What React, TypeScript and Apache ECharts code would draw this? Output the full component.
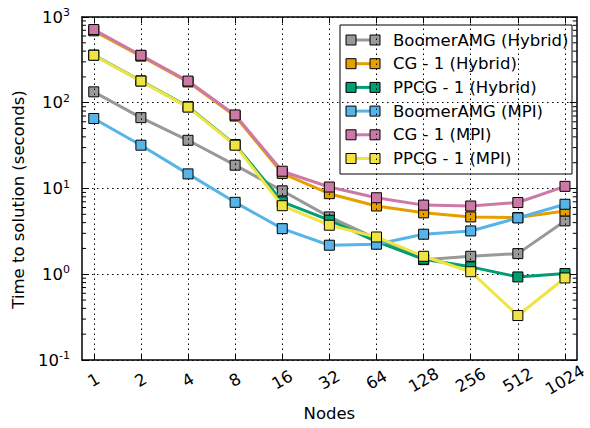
import React, { useEffect, useRef } from "react";
import * as echarts from "echarts";

const nodes = ["1", "2", "4", "8", "16", "32", "64", "128", "256", "512", "1024"];
const seriesNames = [
  "BoomerAMG (Hybrid)",
  "CG - 1 (Hybrid)",
  "PPCG - 1 (Hybrid)",
  "BoomerAMG (MPI)",
  "CG - 1 (MPI)",
  "PPCG - 1 (MPI)",
];
const seriesColors = ["#999999", "#E69F00", "#009E73", "#56B4E9", "#CC79A7", "#F0E442"];

const boomerHybrid = [134, 67, 36.5, 18.7, 9.4, 4.66, 2.6, 1.48, 1.62, 1.74, 4.19];
const cgHybrid = [690, 350, 175, 70, 15, 8.7, 6.25, 5.2, 4.66, 4.58, 5.47];
const ppcgHybrid = [360, 180, 90, 32.5, 7.0, 4.27, 2.4, 1.5, 1.22, 0.93, 1.02];
const boomerMPI = [65.5, 32, 14.8, 6.9, 3.4, 2.18, 2.24, 2.93, 3.2, 4.54, 6.55];
const cgMPI = [714, 358, 179, 72, 15.9, 10.4, 7.8, 6.4, 6.25, 6.86, 10.6];
const ppcgMPI = [358, 179, 89, 32, 6.3, 3.73, 2.72, 1.62, 1.07, 0.33, 0.905];

const seriesValues = [boomerHybrid, cgHybrid, ppcgHybrid, boomerMPI, cgMPI, ppcgMPI];

const yMinorTicks: number[] = [];
for (const d of [0.1, 1, 10, 100]) {
  for (const m of [2, 3, 4, 5, 6, 7, 8, 9]) yMinorTicks.push(+(d * m).toPrecision(3));
}

const FONT = "DejaVu Sans";

export default function App() {
  const ref = useRef<HTMLDivElement>(null);
  useEffect(() => {
    if (!ref.current) return;
    document.body.style.margin = "0";
    const chart = echarts.init(ref.current, null, { renderer: "svg" });
    const xIdx = nodes.map((_, i) => i);

    const lineSeries = seriesNames.map((name, s) => ({
      name,
      type: "line",
      xAxisIndex: 0,
      yAxisIndex: 0,
      data: seriesValues[s].map((v, i) => [i, v]),
      symbol: "rect",
      symbolSize: 10,
      color: seriesColors[s],
      lineStyle: { width: 3, color: seriesColors[s] },
      itemStyle: { color: seriesColors[s], borderColor: "#000", borderWidth: 1 },
      z: 3 + s,
      silent: true,
    }));

    const minorTickSeries = {
      type: "custom",
      xAxisIndex: 0,
      yAxisIndex: 0,
      silent: true,
      z: 1,
      data: yMinorTicks.map((v) => [0, v]),
      renderItem: (params: any, api: any) => {
        const cs = params.coordSys;
        const y = api.coord([0, api.value(1)])[1];
        return {
          type: "group",
          children: [
            { type: "line", shape: { x1: cs.x, y1: y, x2: cs.x + 4, y2: y }, style: { stroke: "#000", lineWidth: 1 } },
            { type: "line", shape: { x1: cs.x + cs.width - 4, y1: y, x2: cs.x + cs.width, y2: y }, style: { stroke: "#000", lineWidth: 1 } },
          ],
        };
      },
      markLine: {
        silent: true,
        symbol: ["none", "none"],
        label: { show: false },
        lineStyle: { type: [1.5, 3.5], color: "#000", width: 1 },
        data: xIdx.map((i) => ({ xAxis: i })),
      },
    };

    const legendLeft = 340;
    const legendTop = 25;
    const rowH = 23.7;
    const legendChildren: any[] = [
      {
        type: "rect",
        shape: { x: legendLeft, y: legendTop, width: 232, height: 149 },
        style: { fill: "#fff", stroke: "#000", lineWidth: 1 },
      },
    ];
    seriesNames.forEach((name, s) => {
      const cy = legendTop + 15 + s * rowH;
      legendChildren.push({
        type: "line",
        shape: { x1: 351, y1: cy, x2: 375, y2: cy },
        style: { stroke: seriesColors[s], lineWidth: 3 },
      });
      [351, 375].forEach((cx) =>
        legendChildren.push({
          type: "rect",
          shape: { x: cx - 5, y: cy - 5, width: 10, height: 10 },
          style: { fill: seriesColors[s], stroke: "#000", lineWidth: 1 },
        })
      );
      legendChildren.push({
        type: "text",
        x: 393,
        y: cy,
        style: {
          text: name,
          fill: "#000",
          font: `16.5px "${FONT}"`,
          verticalAlign: "middle",
          align: "left",
        },
      });
    });

    const yLabelFmt = (v: number) => {
      const e = Math.round(Math.log10(v));
      return `{b|10}{s|${e}}`;
    };

    chart.setOption({
      animation: false,
      backgroundColor: "#fff",
      grid: { left: 82, right: 10, top: 17, bottom: 68, containLabel: false },
      xAxis: [
        {
          type: "value",
          position: "bottom",
          min: -0.25,
          max: 10.25,
          name: "Nodes",
          nameLocation: "middle",
          nameGap: 45,
          nameTextStyle: { fontFamily: FONT, fontSize: 16.5, color: "#000" },
          axisLine: { show: true, onZero: false, lineStyle: { color: "#000", width: 1.5 } },
          axisTick: { show: true, inside: true, length: 6, customValues: xIdx, lineStyle: { color: "#000" } },
          axisLabel: {
            show: true,
            customValues: xIdx,
            formatter: (v: number) => nodes[Math.round(v)] ?? "",
            rotate: 30,
            align: "center",
            verticalAlign: "middle",
            margin: 20,
            fontFamily: FONT,
            fontSize: 16.5,
            color: "#000",
          },
          splitLine: { show: false },
        },
        {
          type: "value",
          position: "top",
          min: -0.25,
          max: 10.25,
          axisLine: { show: true, onZero: false, lineStyle: { color: "#000", width: 1.5 } },
          axisTick: { show: true, inside: true, length: 6, customValues: xIdx, lineStyle: { color: "#000" } },
          axisLabel: { show: false },
          splitLine: { show: false },
        },
      ],
      yAxis: [
        {
          type: "log",
          logBase: 10,
          min: 0.1,
          max: 1000,
          position: "left",
          name: "Time to solution (seconds)",
          nameLocation: "middle",
          nameGap: 50,
          nameTextStyle: { fontFamily: FONT, fontSize: 16.5, color: "#000", padding: [0, 22, 0, 0] },
          axisLine: { show: true, onZero: false, lineStyle: { color: "#000", width: 1.5 } },
          axisTick: { show: true, inside: true, length: 7, lineStyle: { color: "#000" } },
          axisLabel: {
            show: true,
            margin: 12,
            formatter: yLabelFmt,
            rich: {
              b: { fontFamily: FONT, fontSize: 16.5, color: "#000" },
              s: { fontFamily: FONT, fontSize: 11, color: "#000", padding: [0, 0, 9, 0] },
            },
          },
          splitLine: { show: true, lineStyle: { type: [1.5, 3.5], color: "#000", width: 1 } },
        },
        {
          type: "log",
          logBase: 10,
          min: 0.1,
          max: 1000,
          position: "right",
          axisLine: { show: true, onZero: false, lineStyle: { color: "#000", width: 1.5 } },
          axisTick: { show: true, inside: true, length: 7, lineStyle: { color: "#000" } },
          axisLabel: { show: false },
          splitLine: { show: false },
        },
      ],
      graphic: [{ type: "group", z: 100, children: legendChildren }],
      series: [minorTickSeries, ...lineSeries],
    });
    return () => chart.dispose();
  }, []);
  return <div ref={ref} style={{ width: 590, height: 428 }} />;
}
